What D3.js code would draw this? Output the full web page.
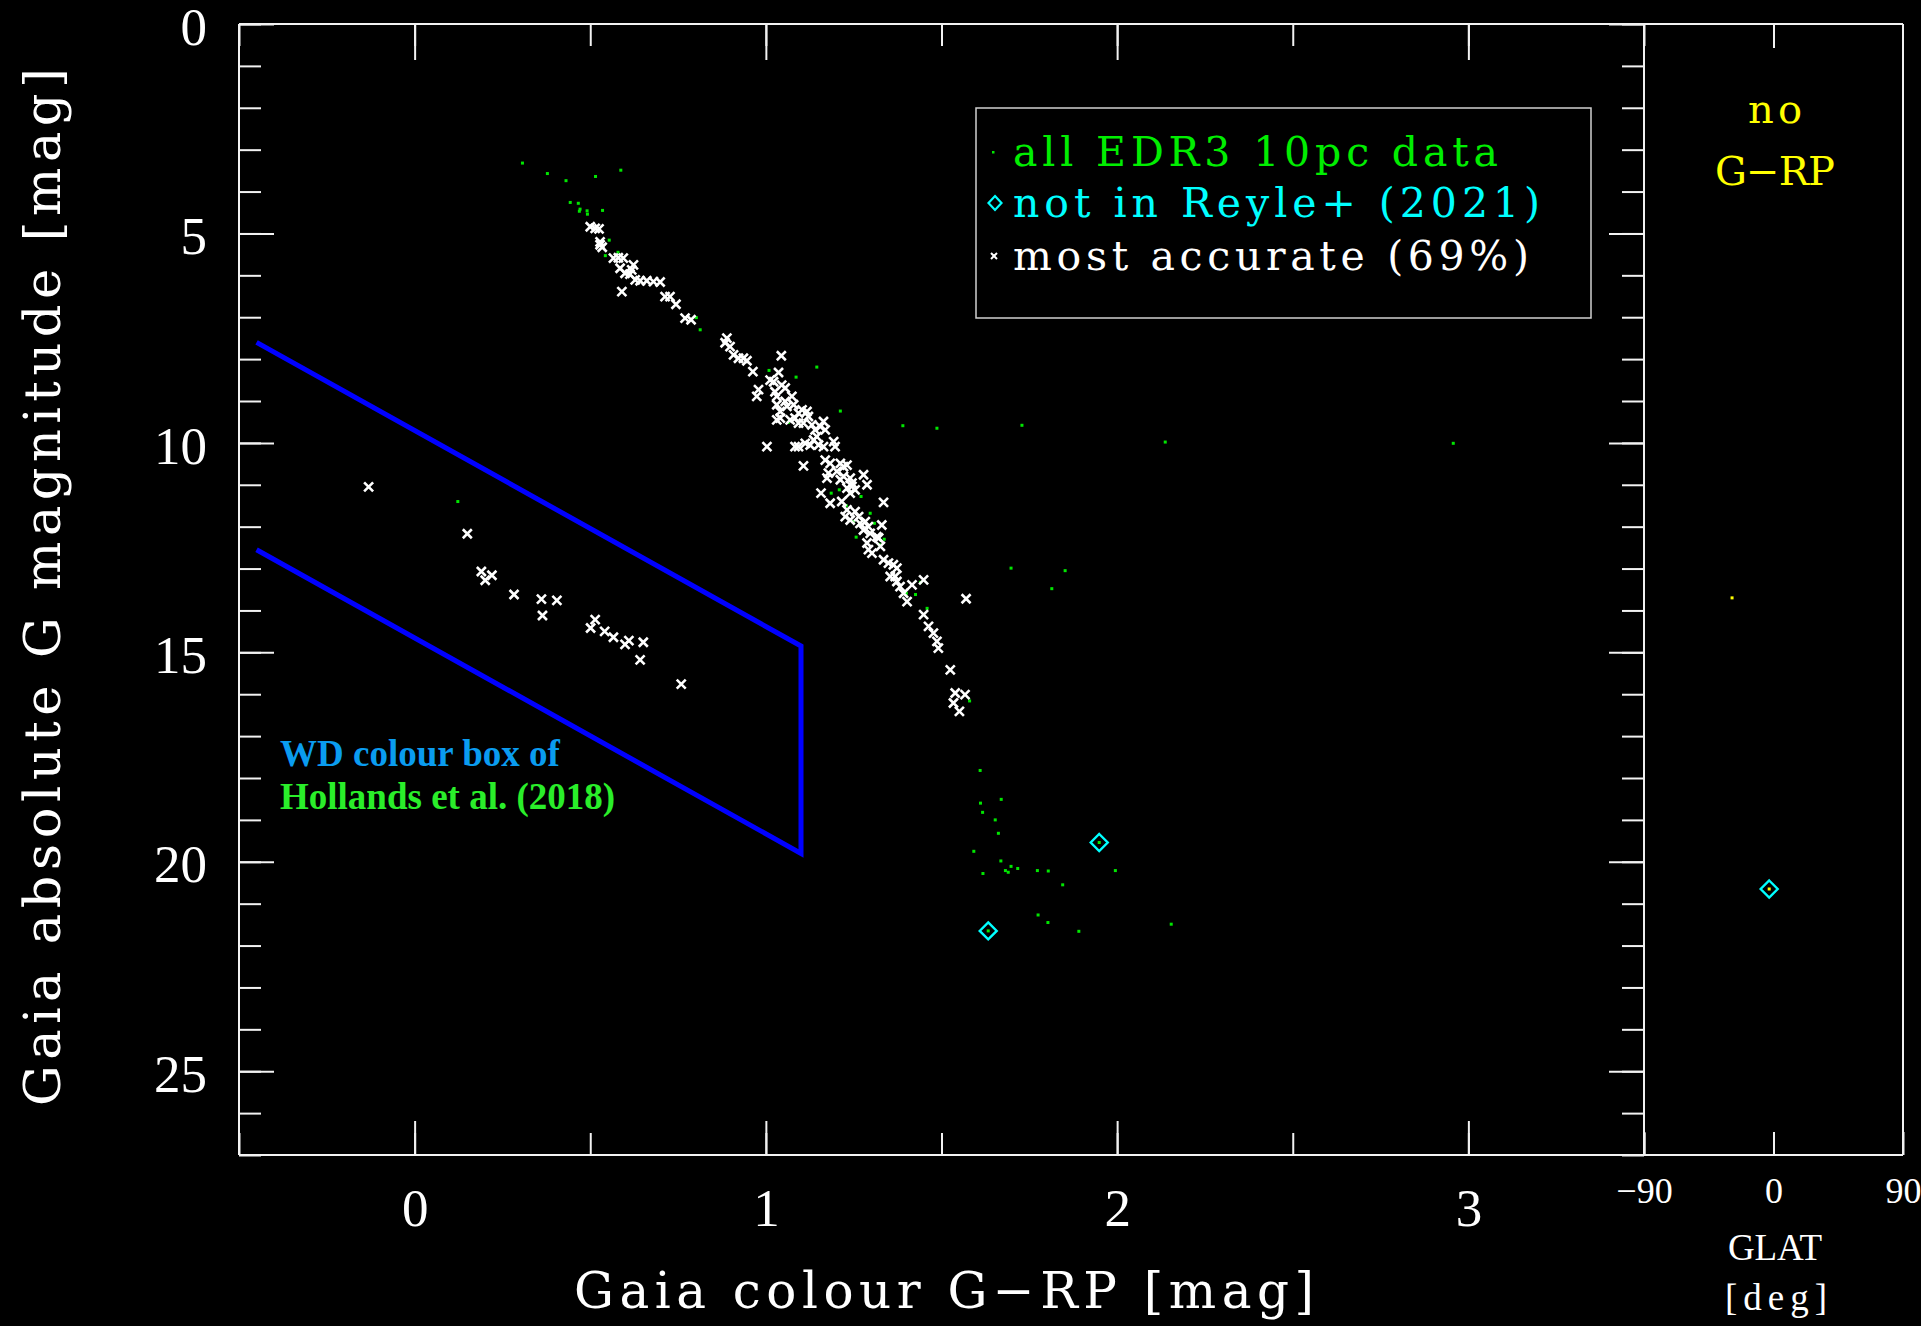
<!DOCTYPE html>
<html>
<head>
<meta charset="utf-8">
<script src="https://cdn.jsdelivr.net/npm/d3@7"></script>
<style>
body { margin: 0; background: #000; }
svg { display: block; }
</style>
</head>
<body>
<script>
var svgWidth = 1921;
var svgHeight = 1326;

// stars with the most accurate astrometry (white crosses): [G-RP, M_G]
var accurateStars = [
  [0.50,4.84],[0.514,4.88],[0.525,4.89],[0.528,5.20],[0.534,5.33],[0.528,5.27],
  [0.566,5.59],[0.58,5.58],[0.594,5.59],[0.585,5.83],[0.599,5.95],[0.613,5.97],[0.623,5.75],[0.618,5.87],
  [0.628,6.11],[0.642,6.13],[0.661,6.13],[0.68,6.15],[0.699,6.16],[0.59,6.39],
  [0.713,6.51],[0.727,6.51],[0.744,6.69],[0.77,7.02],[0.787,7.06],
  [0.889,7.50],[0.884,7.61],[0.898,7.70],[0.908,7.90],[0.922,7.98],[0.936,7.98],[0.946,8.04],[0.963,8.30],
  [1.044,7.92],[1.036,8.32],[1.012,8.50],[1.022,8.54],[1.045,8.62],[1.055,8.69],[1.074,8.89],[0.979,8.73],[0.974,8.89],
  [1.003,10.09],[1.083,10.09],[1.107,10.55],[1.026,8.78],[1.031,8.89],
  [1.031,9.09],[1.041,9.25],[1.06,9.13],[1.079,9.09],[1.093,9.29],[1.083,9.41],[1.069,9.45],[1.041,9.41],
  [1.031,9.45],[1.055,9.01],[1.103,9.21],[1.117,9.25],[1.121,9.37],[1.107,9.53],[1.093,9.53],
  [1.131,9.57],[1.14,9.69],[1.145,9.85],[1.155,9.61],[1.164,9.49],[1.169,9.69],[1.136,9.93],[1.15,10.05],
  [1.164,10.09],[1.193,9.97],[1.197,10.09],[1.126,10.05],[1.112,10.01],[1.093,10.09],
  [1.169,10.41],[1.183,10.49],[1.212,10.49],[1.221,10.57],[1.202,10.68],[1.231,10.53],[1.178,10.72],[1.174,10.84],
  [1.212,10.88],[1.221,10.80],[1.24,10.84],[1.245,10.96],[1.278,10.76],[1.288,11.0],[1.254,11.12],[1.24,11.2],
  [1.245,11.04],[1.231,11.08],[1.157,11.2],
  [1.183,11.44],[1.216,11.4],[1.231,11.6],[1.226,11.76],[1.24,11.84],[1.254,11.64],[1.264,11.76],[1.268,11.92],
  [1.283,11.88],[1.292,12.0],[1.278,12.08],[1.297,12.16],[1.316,12.24],[1.288,12.39],[1.292,12.55],[1.302,12.63],
  [1.326,12.47],[1.33,11.96],[1.335,11.42],[1.321,12.27],
  [1.335,12.79],[1.349,12.87],[1.363,12.91],[1.373,12.99],[1.368,13.19],
  [1.449,13.27],[1.57,13.72],[1.449,14.1],[1.463,14.38],[1.477,14.54],[1.487,14.74],[1.491,14.9],[1.525,15.42],
  [1.539,15.97],[1.567,16.01],[1.534,16.21],[1.551,16.41],[1.416,13.39],[1.382,13.43],[1.392,13.59],[1.402,13.79],
  [1.373,13.31],[1.354,13.19],
  // white dwarfs
  [-0.131,11.05],[0.15,12.17],[0.19,13.07],[0.201,13.28],[0.22,13.16],[0.283,13.62],[0.361,13.73],[0.405,13.76],
  [0.364,14.12],[0.514,14.22],[0.501,14.42],[0.541,14.5],[0.566,14.64],[0.599,14.81],[0.61,14.72],[0.651,14.76],
  [0.642,15.18],[0.759,15.76]
];

// remaining EDR3 10pc stars with G-RP (green dots only)
var otherStars = [
  [0.307,3.32],[0.378,3.57],[0.431,3.74],[0.515,3.64],[0.587,3.49],[0.443,4.26],[0.466,4.28],[0.471,4.42],
  [0.469,4.47],[0.491,4.46],[0.492,4.54],[0.535,4.45],[0.554,5.16],[0.579,5.45],[0.543,5.53],[0.802,7.01],[0.813,7.30],
  [1.009,8.27],[1.145,8.19],[1.086,8.43],[1.212,9.24],[1.39,9.59],[1.487,9.65],[1.729,9.58],[2.137,9.98],[2.957,10.01],
  [1.064,9.51],[1.186,11.2],[1.271,11.28],[1.297,11.68],[1.309,11.92],[1.337,12.3],[1.257,12.25],[1.249,11.88],
  [1.323,12.43],[1.209,11.12],[1.229,11.5],
  [1.698,12.99],[1.852,13.05],[1.814,13.48],[1.58,16.16],[1.459,13.95],[1.426,13.62],[1.44,13.33],[1.40,13.59],
  [0.123,11.4],
  [1.61,17.82],[1.611,18.6],[1.67,18.51],[1.617,18.82],[1.653,19.0],[1.662,19.32],[1.592,19.75],[1.669,19.98],
  [1.698,20.11],[1.717,20.16],[1.682,20.21],[1.69,20.25],[1.618,20.28],[1.773,20.21],[1.804,20.22],[1.845,20.55],
  [1.995,20.21],[1.775,21.27],[1.803,21.45],[1.891,21.66],[2.154,21.49]
];

// stars not in Reyle+ (2021) (cyan diamonds)
var notInReyle = [[1.949,19.54],[1.633,21.65]];

// stars without G-RP, plotted against galactic latitude: [GLAT, M_G]
var noColourStars = [[-28.8,13.7]];
var noColourNotInReyle = [[-3.0,20.65]];

// WD colour box of Hollands et al. (2018), open polyline
var wdBox = [[-0.45,7.6],[1.1,14.85],[1.1,19.8],[-0.45,12.55]];

// ticks
var magMinorTicks = d3.range(0, 28, 1);
var magMajorTicks = [0, 5, 10, 15, 20, 25];
var colMinorTicks = d3.range(-0.5, 3.51, 0.5);
var colMajorTicks = [0, 1, 2, 3];
var glatTicks = [-90, 0, 90];

var svg = d3.select("body").append("svg").attr("width", svgWidth).attr("height", svgHeight)
  .style("background", "#000");

var x = d3.scaleLinear().domain([-0.5, 3.5]).range([239, 1644]);
var y = d3.scaleLinear().domain([0, 27]).range([24, 1155]);
var glat = d3.scaleLinear().domain([-90, 90]).range([1644, 1903]);

var axisColor = "#f2f2f2";
var tickFont = "Liberation Serif";
var titleFont = "DejaVu Serif";

function addAxis(axis, tx, ty) {
  var g = svg.append("g")
    .attr("transform", "translate(" + tx + "," + ty + ")")
    .attr("color", axisColor)
    .call(axis);
  g.select(".domain").remove();
  g.selectAll(".tick line").attr("stroke-width", 2);
  g.selectAll("text").style("font-family", tickFont).attr("fill", "#fff");
  return g;
}

// left & right magnitude axes
addAxis(d3.axisLeft(y).tickValues(magMinorTicks).tickSize(-22).tickFormat(""), 239, 0);
var yLab = addAxis(d3.axisLeft(y).tickValues(magMajorTicks).tickSize(-35).tickPadding(32), 239, 0);
yLab.selectAll("text").attr("font-size", 53).attr("dy", "0.38em");
addAxis(d3.axisRight(y).tickValues(magMinorTicks).tickSize(-22).tickFormat(""), 1644, 0);
addAxis(d3.axisRight(y).tickValues(magMajorTicks).tickSize(-35).tickFormat(""), 1644, 0);

// top & bottom colour axes
addAxis(d3.axisTop(x).tickValues(colMinorTicks).tickSize(-22).tickFormat(""), 0, 24);
addAxis(d3.axisTop(x).tickValues(colMajorTicks).tickSize(-36).tickFormat(""), 0, 24);
addAxis(d3.axisBottom(x).tickValues(colMinorTicks).tickSize(-22).tickFormat(""), 0, 1155);
var xLab = addAxis(d3.axisBottom(x).tickValues(colMajorTicks).tickSize(-34).tickFormat(d3.format("d")), 0, 1155);
xLab.selectAll("text").attr("font-size", 53).attr("y", 71).attr("dy", 0);

// GLAT panel axes
addAxis(d3.axisTop(glat).tickValues([0]).tickSize(-24).tickFormat(""), 0, 24);
var gLab = addAxis(d3.axisBottom(glat).tickValues(glatTicks).tickSize(-23), 0, 1155);
gLab.selectAll("text").attr("font-size", 36).attr("y", 48).attr("dy", 0);

// frame
var frame = svg.append("g").attr("stroke", axisColor).attr("stroke-width", 2);
frame.append("line").attr("x1", x(-0.5)).attr("x2", glat(90)).attr("y1", y(0)).attr("y2", y(0));
frame.append("line").attr("x1", x(-0.5)).attr("x2", glat(90)).attr("y1", y(27)).attr("y2", y(27));
[x(-0.5), x(3.5), glat(90)].forEach(function(px) {
  frame.append("line").attr("x1", px).attr("x2", px).attr("y1", y(0)).attr("y2", y(27));
});

// axis titles
svg.append("text")
  .attr("x", 574).attr("y", 1308)
  .style("font-family", titleFont).attr("font-size", 50).attr("fill", "#fff")
  .attr("textLength", 740).attr("lengthAdjust", "spacing")
  .text("Gaia colour G\u2212RP [mag]");

svg.append("text")
  .attr("transform", "translate(60,1106) rotate(-90)")
  .style("font-family", titleFont).attr("font-size", 51).attr("fill", "#fff")
  .attr("textLength", 1038).attr("lengthAdjust", "spacing")
  .text("Gaia absolute G magnitude [mag]");

svg.append("text").attr("x", 1775).attr("y", 1260).attr("text-anchor", "middle")
  .style("font-family", tickFont).attr("font-size", 37).attr("fill", "#fff")
  .attr("textLength", 94).attr("lengthAdjust", "spacing").text("GLAT");
svg.append("text").attr("x", 1776).attr("y", 1310).attr("text-anchor", "middle")
  .style("font-family", tickFont).attr("font-size", 37).attr("fill", "#fff")
  .attr("textLength", 102).attr("lengthAdjust", "spacing").text("[deg]");

// WD colour box
var line = d3.line().x(function(d) { return x(d[0]); }).y(function(d) { return y(d[1]); });
svg.append("path")
  .attr("d", line(wdBox))
  .attr("fill", "none")
  .attr("stroke", "#0000ff")
  .attr("stroke-width", 5)
  .attr("stroke-linejoin", "miter");

svg.append("text").attr("x", 280).attr("y", 766)
  .style("font-family", tickFont).attr("font-size", 37).attr("font-weight", "bold").attr("fill", "#0a9cf0")
  .text("WD colour box of");
svg.append("text").attr("x", 280).attr("y", 809)
  .style("font-family", tickFont).attr("font-size", 37).attr("font-weight", "bold").attr("fill", "#2aee2a")
  .text("Hollands et al. (2018)");

// markers
var crossPath = "M-4.5,-4.5L4.5,4.5M-4.5,4.5L4.5,-4.5";
var diamondPath = "M0,-8.5L8.5,0L0,8.5L-8.5,0Z";

var allStars = otherStars.concat(accurateStars).concat(notInReyle);

// all EDR3 10pc data
svg.append("g").selectAll("rect").data(allStars).join("rect")
  .attr("x", function(d) { return x(d[0]) - 1.5; })
  .attr("y", function(d) { return y(d[1]) - 1.5; })
  .attr("width", 3).attr("height", 3)
  .attr("fill", "#00e600");

// not in Reyle+
svg.append("g").selectAll("path").data(notInReyle).join("path")
  .attr("transform", function(d) { return "translate(" + x(d[0]) + "," + y(d[1]) + ")"; })
  .attr("d", diamondPath)
  .attr("fill", "none").attr("stroke", "#00ffff").attr("stroke-width", 2.4);

// most accurate
svg.append("g").selectAll("path").data(accurateStars).join("path")
  .attr("transform", function(d) { return "translate(" + x(d[0]) + "," + y(d[1]) + ")"; })
  .attr("d", crossPath)
  .attr("fill", "none").attr("stroke", "#fff").attr("stroke-width", 2.6);

// GLAT panel: no G-RP
svg.append("g").selectAll("rect").data(noColourStars.concat(noColourNotInReyle)).join("rect")
  .attr("x", function(d) { return glat(d[0]) - 1.5; })
  .attr("y", function(d) { return y(d[1]) - 1.5; })
  .attr("width", 3).attr("height", 3)
  .attr("fill", "#ffff00");
svg.append("g").selectAll("path").data(noColourNotInReyle).join("path")
  .attr("transform", function(d) { return "translate(" + glat(d[0]) + "," + y(d[1]) + ")"; })
  .attr("d", diamondPath)
  .attr("fill", "none").attr("stroke", "#00ffff").attr("stroke-width", 2.4);

svg.append("text").attr("x", 1775).attr("y", 123).attr("text-anchor", "middle")
  .style("font-family", titleFont).attr("font-size", 40)
  .attr("textLength", 54).attr("lengthAdjust", "spacing")
  .attr("fill", "#ffff00").text("no");
svg.append("text").attr("x", 1775).attr("y", 185).attr("text-anchor", "middle")
  .style("font-family", titleFont).attr("font-size", 40)
  .attr("textLength", 120).attr("lengthAdjust", "spacing")
  .attr("fill", "#ffff00").text("G\u2212RP");

// legend
var legend = svg.append("g");
legend.append("rect")
  .attr("x", 976).attr("y", 108).attr("width", 615).attr("height", 210)
  .attr("fill", "#000").attr("stroke", "#d0d0d0").attr("stroke-width", 1.5);

var legendRows = [
  { label: "all EDR3 10pc data", color: "#00ee00", len: 485, base: 166, mark: "dot" },
  { label: "not in Reyle+ (2021)", color: "#00ffff", len: 527, base: 217, mark: "diamond" },
  { label: "most accurate (69%)", color: "#ffffff", len: 516, base: 270, mark: "cross" }
];

legendRows.forEach(function(r) {
  legend.append("text")
    .attr("x", 1013).attr("y", r.base)
    .style("font-family", titleFont).attr("font-size", 41)
    .attr("textLength", r.len).attr("lengthAdjust", "spacing")
    .attr("fill", r.color)
    .text(r.label);
  var cy = r.base - 14;
  if (r.mark == "dot") {
    legend.append("rect").attr("x", 992).attr("y", cy - 1).attr("width", 2.5).attr("height", 2.5).attr("fill", "#00e600");
  } else if (r.mark == "diamond") {
    legend.append("path").attr("transform", "translate(995," + cy + ")")
      .attr("d", "M0,-7L6.5,0L0,7L-6.5,0Z").attr("fill", "none").attr("stroke", "#00ffff").attr("stroke-width", 2.2);
  } else {
    legend.append("path").attr("transform", "translate(994," + cy + ")")
      .attr("d", "M-3,-3L3,3M-3,3L3,-3").attr("fill", "none").attr("stroke", "#fff").attr("stroke-width", 2);
  }
});
</script>
</body>
</html>
